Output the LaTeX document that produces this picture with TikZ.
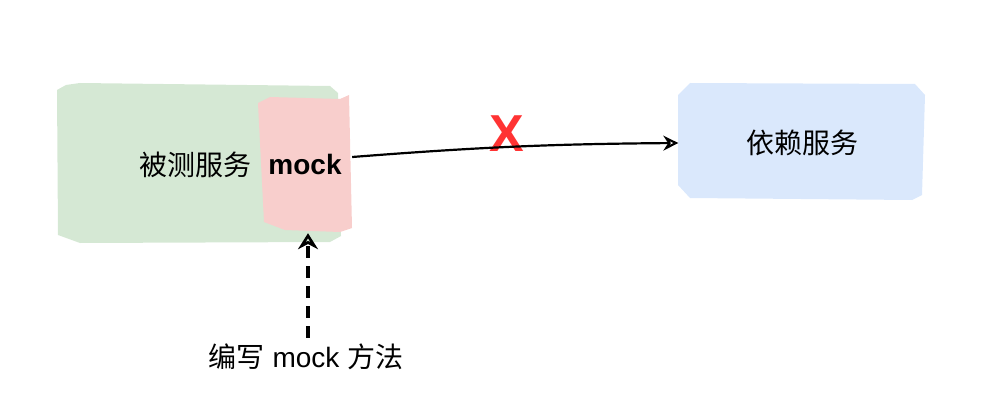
\documentclass[tikz,border=0pt]{standalone}
\usepackage{fontspec}
\setmainfont{Liberation Sans}
\newfontfamily\cjk{Noto Sans CJK SC}
\usetikzlibrary{arrows.meta}
\definecolor{svcgreen}{HTML}{D5E8D4}
\definecolor{mockpink}{HTML}{F8CECC}
\definecolor{depblue}{HTML}{DAE8FC}
\definecolor{crossred}{HTML}{FF3333}
\begin{document}
\begin{tikzpicture}[x=1pt,y=-1pt,
  lbl/.style={font=\fontsize{28}{32}\selectfont, inner sep=0pt},
  anchorbox/.style={draw=none, fill=none, inner sep=0pt},
  arr/.style={line width=2.2pt, -{Stealth[open, length=15pt, width=15pt, line width=2.2pt]}},
  darr/.style={line width=3.6pt, dash pattern=on 12pt off 8pt, -{Stealth[open, length=16pt, width=20pt, line width=3.4pt]}}
]
\useasboundingbox (0,0) rectangle (992,414);
% sketchy filled shapes
\fill[svcgreen] (57,90) -- (66,85) -- (80,83) -- (330,86) -- (338,93) -- (341,236) -- (330,242) -- (80,243) -- (58,235) -- cycle;
\fill[mockpink] (258,103) -- (270,97) -- (340,99) -- (349,95) -- (352,228) -- (340,232) -- (285,230) -- (264,222) -- cycle;
\fill[depblue] (678,95) -- (690,83) -- (915,84) -- (925,95) -- (922,195) -- (912,200) -- (690,198) -- (678,185) -- cycle;
% nodes
\node[anchorbox, minimum width=285pt, minimum height=158pt] (svc) at (198,163) {};
\node[lbl] (svctext) at (195,165) {\cjk 被测服务};
\node[anchorbox, minimum width=94pt, minimum height=134pt, font=\fontsize{28}{32}\selectfont\bfseries] (mock) at (305,164) {mock};
\node[anchorbox, minimum width=247pt, minimum height=118pt, font=\fontsize{28}{32}\selectfont] (dep) at (802,143) {\cjk 依赖服务};
\node[lbl] (write) at (306,357) {{\cjk 编写} mock {\cjk 方法}};
\node[font=\fontsize{52}{56}\selectfont\bfseries, text=crossred, inner sep=0pt] (cross) at (507,134) {X};
% connectors
\draw[arr] ([yshift=7pt]mock.east) to[bend left=2] (dep.west);
\coordinate (dtop) at ([xshift=3pt, yshift=-2pt]mock.south);
\draw[darr] (write.north -| dtop) ++(0,-6) -- (dtop);
\end{tikzpicture}
\end{document}
